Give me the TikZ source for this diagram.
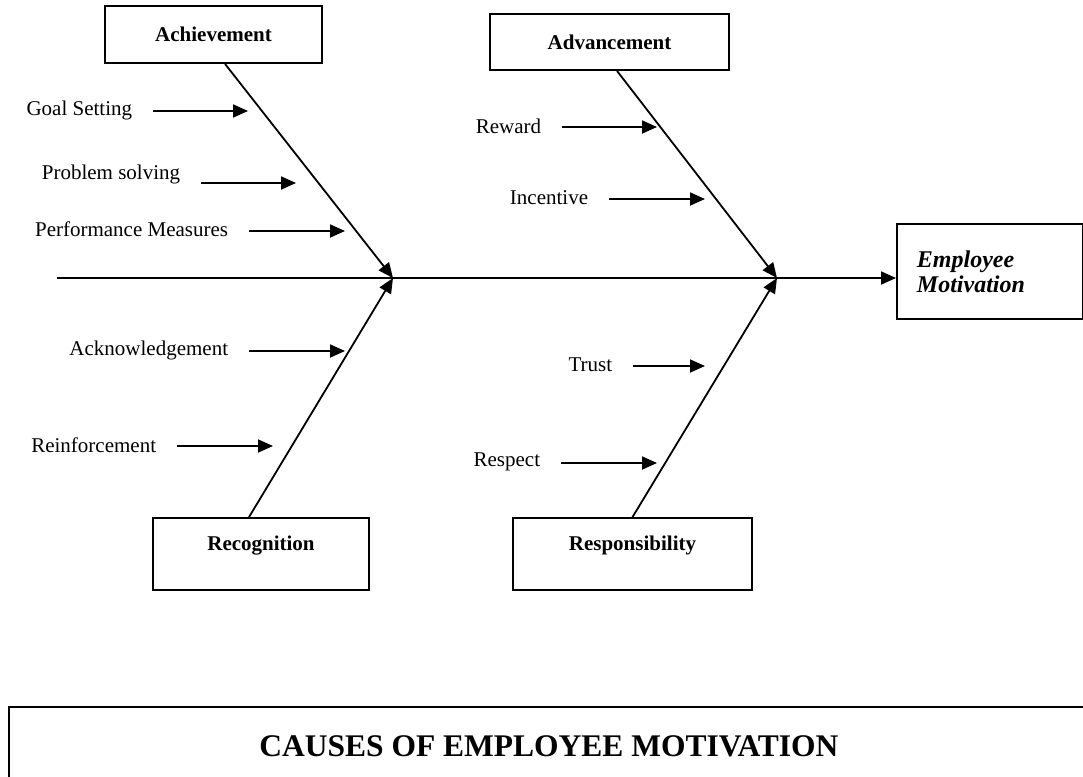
\documentclass[tikz,border=0pt]{standalone}
\usepackage{fontspec}
\setmainfont{Liberation Serif}
\usetikzlibrary{arrows.meta}

\begin{document}
\begin{tikzpicture}[x=1pt, y=-1pt, >={Triangle[length=15pt,width=13pt]}, line width=1.8pt,
    box/.style={draw, rectangle, inner sep=0pt, font=\fontsize{21}{25}\selectfont\bfseries},
    lowbox/.style={box, minimum height=72pt, text height=15pt, text depth=23pt},
    lbl/.style={inner sep=0pt, anchor=east, font=\fontsize{21}{25}\selectfont}]
  \clip (0,0) rectangle (1083,776);

  % category boxes
  \node[box, minimum width=217pt, minimum height=57pt] (ach) at (213.5,34.5) {Achievement};
  \node[box, minimum width=239pt, minimum height=56pt] (adv) at (609.5,42) {Advancement};
  \node[lowbox, minimum width=216pt] (rec) at (261,554) {Recognition};
  \node[lowbox, minimum width=239pt] (resp) at (632.5,554) {Responsibility};
  \node[box, minimum width=186pt, minimum height=95pt, anchor=north west,
        inner xsep=20pt, text width=146pt, align=left,
        font=\fontsize{24}{25}\selectfont\bfseries\itshape] (emp) at (896,223) {Employee\\Motivation};

  % spine and bones
  \coordinate (tail) at (57,278);
  \coordinate (j1) at (393,278);
  \coordinate (j2) at (777,278);
  \draw[->] (tail) -- (tail -| emp.west);
  \draw[->] ([xshift=11.5pt]ach.south) -- (j1);
  \draw[->] ([xshift=-12pt]rec.north) -- (j1);
  \draw[->] ([xshift=7.5pt]adv.south) -- (j2);
  \draw[->] (resp.north) -- (j2);

  % causes along the bones
  \node[lbl] (goal) at (133,110) {Goal Setting};
  \node[lbl] (prob) at (181,174) {Problem solving};
  \node[lbl] (perf) at (229,229) {Performance Measures};
  \node[lbl] (ackn) at (229,350) {Acknowledgement};
  \node[lbl] (reinf) at (157,445) {Reinforcement};
  \node[lbl] (rew) at (542,126) {Reward};
  \node[lbl] (inc) at (589,198) {Incentive};
  \node[lbl] (trust) at (613,365) {Trust};
  \node[lbl] (respect) at (541,462) {Respect};

  \coordinate (goal-tip) at (248,111);
  \coordinate (prob-tip) at (296,183);
  \coordinate (perf-tip) at (345,231);
  \coordinate (ackn-tip) at (345,351);
  \coordinate (reinf-tip) at (273,446);
  \coordinate (rew-tip) at (657,127);
  \coordinate (inc-tip) at (705,199);
  \coordinate (trust-tip) at (705,366);
  \coordinate (respect-tip) at (657,463);

  \draw[->] (goal.east |- goal-tip) ++(20,0) -- (goal-tip);
  \draw[->] (prob.east |- prob-tip) ++(20,0) -- (prob-tip);
  \draw[->] (perf.east |- perf-tip) ++(20,0) -- (perf-tip);
  \draw[->] (ackn.east |- ackn-tip) ++(20,0) -- (ackn-tip);
  \draw[->] (reinf.east |- reinf-tip) ++(20,0) -- (reinf-tip);
  \draw[->] (rew.east |- rew-tip) ++(20,0) -- (rew-tip);
  \draw[->] (inc.east |- inc-tip) ++(20,0) -- (inc-tip);
  \draw[->] (trust.east |- trust-tip) ++(20,0) -- (trust-tip);
  \draw[->] (respect.east |- respect-tip) ++(20,0) -- (respect-tip);

  % title
  \node[draw, inner sep=0pt, minimum width=1080pt, minimum height=78pt, anchor=north west,
        font=\fontsize{31.5}{36}\selectfont\bfseries] (title) at (8,706) {CAUSES OF EMPLOYEE MOTIVATION};
\end{tikzpicture}
\end{document}
